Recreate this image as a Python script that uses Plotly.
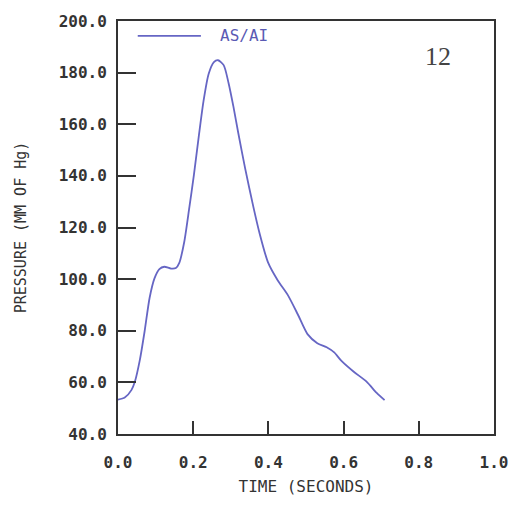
import plotly.graph_objects as go

time_s = [0.0, 0.018, 0.036, 0.045, 0.058, 0.071, 0.084, 0.097, 0.110, 0.123,
          0.141, 0.154, 0.163, 0.176, 0.189, 0.202, 0.215, 0.228, 0.241, 0.255,
          0.266, 0.281, 0.294, 0.307, 0.320, 0.338, 0.360, 0.377, 0.399, 0.425,
          0.451, 0.478, 0.504, 0.530, 0.555, 0.575, 0.595, 0.627, 0.661, 0.688, 0.709]
pressure = [53.3, 54.1, 57.1, 60.3, 68.6, 80.0, 92.7, 100.3, 103.9, 104.8,
            104.1, 104.3, 106.3, 114.3, 127.0, 140.5, 155.5, 169.5, 179.5, 184.1,
            184.8, 182.9, 176.0, 166.8, 156.5, 143.0, 128.0, 117.5, 106.5, 99.5,
            94.0, 86.4, 78.7, 75.2, 73.6, 71.6, 68.2, 64.1, 60.3, 55.9, 53.1]
series_name = "AS/AI"
panel_label = "12"
y_ticks = [40, 60, 80, 100, 120, 140, 160, 180, 200]
x_ticks = [0.0, 0.2, 0.4, 0.6, 0.8, 1.0]

line_color = "#6666c4"
axis_color = "#333333"
mono = "DejaVu Sans Mono"

fig = go.Figure()
fig.add_trace(go.Scatter(x=time_s, y=pressure, mode="lines", name=series_name,
                         line=dict(color=line_color, width=1.8, shape="spline", smoothing=0.7),
                         showlegend=False))

fig.update_layout(
    width=520, height=505,
    margin=dict(l=118, r=21, t=15, b=70),
    plot_bgcolor="white", paper_bgcolor="white",
    font=dict(family=mono, color=axis_color),
)
fig.update_xaxes(range=[0, 1.0], tickvals=x_ticks, tickformat=".1f",
                 showgrid=False, zeroline=False, showline=True, mirror=True,
                 linecolor=axis_color, linewidth=2, ticks="inside", ticklen=13,
                 tickwidth=2, tickcolor=axis_color, ticklabelstandoff=13,
                 tickfont=dict(family=mono, size=16, weight="bold", color=axis_color),
                 title=dict(text="TIME (SECONDS)", standoff=10,
                            font=dict(family=mono, size=16, color=axis_color)))
fig.update_yaxes(range=[40, 200], tickvals=y_ticks, tickformat=".1f",
                 showgrid=False, zeroline=False, showline=True, mirror=True,
                 linecolor=axis_color, linewidth=2, ticks="inside", ticklen=18,
                 tickwidth=2, tickcolor=axis_color, ticklabelstandoff=6,
                 tickfont=dict(family=mono, size=16, weight="bold", color=axis_color),
                 title=dict(text="PRESSURE (MM OF Hg)", standoff=28,
                            font=dict(family=mono, size=15, color=axis_color)))

# legend-style key inside the plot frame
fig.add_shape(type="line", xref="paper", yref="paper", x0=0.0525, x1=0.2205,
              y0=0.964, y1=0.964, line=dict(color=line_color, width=1.6))
fig.add_annotation(text=series_name, xref="paper", yref="paper", x=0.265, y=0.964,
                   xanchor="left", yanchor="middle", showarrow=False,
                   font=dict(family=mono, size=16, color="#5a5ab4"))
fig.add_annotation(text=panel_label, xref="paper", yref="paper", x=0.852, y=0.915,
                   xanchor="center", yanchor="middle", showarrow=False,
                   font=dict(family="Liberation Serif", size=26, color="#444444"))

fig.write_html("out.html")
